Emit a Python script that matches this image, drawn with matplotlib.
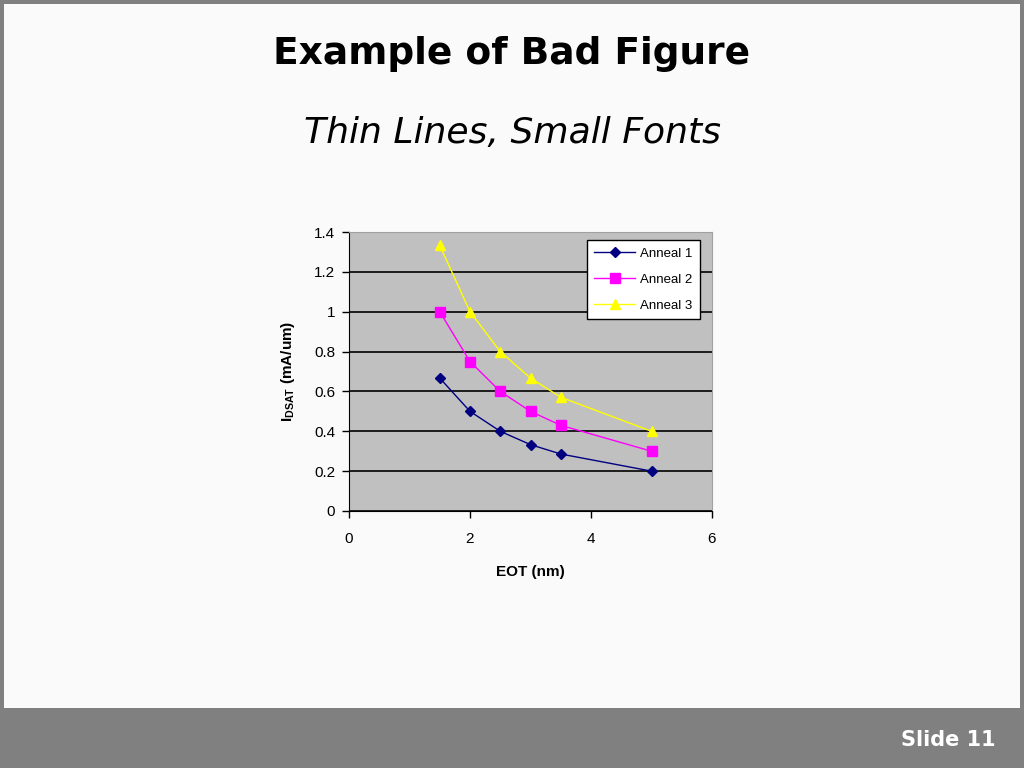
import matplotlib
matplotlib.use("Agg")
import matplotlib.pyplot as plt
from matplotlib.patches import Rectangle

eot = [1.5, 2.0, 2.5, 3.0, 3.5, 5.0]
anneal1 = [0.667, 0.5, 0.4, 0.333, 0.286, 0.2]
anneal2 = [1.0, 0.75, 0.6, 0.5, 0.43, 0.3]
anneal3 = [1.333, 1.0, 0.8, 0.667, 0.571, 0.4]
series_names = ["Anneal 1", "Anneal 2", "Anneal 3"]
x_ticks = [0, 2, 4, 6]
y_ticks = [0, 0.2, 0.4, 0.6, 0.8, 1.0, 1.2, 1.4]
y_tick_labels = ["0", "0.2", "0.4", "0.6", "0.8", "1", "1.2", "1.4"]

plt.rcParams['mathtext.fontset'] = 'custom'
plt.rcParams['mathtext.rm'] = 'Liberation Sans:bold'
plt.rcParams['mathtext.bf'] = 'Liberation Sans:bold'

fig = plt.figure(figsize=(10.24, 7.68), dpi=100)
fig.patch.set_facecolor('#808080')

# slide background
fig.add_artist(Rectangle((4/1024, 60/768), 1016/1024, 704/768, transform=fig.transFigure,
                         facecolor='#fafafa', edgecolor='none', zorder=0))

fig.text(0.5, 1 - 54/768, "Example of Bad Figure", ha='center', va='center',
         fontsize=27, fontweight='bold', family='DejaVu Sans', color='black')
fig.text(0.5, 1 - 133/768, "Thin Lines, Small Fonts", ha='center', va='center',
         fontsize=26, style='italic', family='DejaVu Sans', color='black')
fig.text(1 - 28/1024, 1 - 740/768, "Slide 11", ha='right', va='center',
         fontsize=15, fontweight='bold', family='DejaVu Sans', color='white')

ax = fig.add_axes([349/1024, 1 - 511/768, 363/1024, 279/768])
ax.set_facecolor('#c0c0c0')

ax.plot(eot, anneal1, color='#000080', lw=1, marker='D', ms=5.5, label=series_names[0], zorder=3)
ax.plot(eot, anneal2, color='#ff00ff', lw=1, marker='s', ms=7, label=series_names[1], zorder=3)
ax.plot(eot, anneal3, color='#ffff00', lw=1, marker='^', ms=7.5, label=series_names[2], zorder=3)

ax.set_xlim(0, 6)
ax.set_ylim(0, 1.4)
ax.set_xticks(x_ticks)
ax.set_xticklabels([str(t) for t in x_ticks])
ax.set_yticks(y_ticks)
ax.set_yticklabels(y_tick_labels)
ax.yaxis.grid(True, color='black', lw=1.2)
ax.set_axisbelow(True)
ax.tick_params(labelsize=11, direction='out', length=5, width=1)
ax.tick_params(axis='y', pad=5)
ax.tick_params(axis='x', pad=10)
for lab in ax.get_xticklabels() + ax.get_yticklabels():
    lab.set_family('Liberation Sans')
ax.spines['left'].set_color('black')
ax.spines['bottom'].set_color('black')
ax.spines['top'].set_color('#a0a0a0')
ax.spines['right'].set_color('#a0a0a0')

ax.set_xlabel("EOT (nm)", fontsize=11, fontweight='bold', family='Liberation Sans', labelpad=14)
ax.set_ylabel(r"I$_{\mathrm{DSAT}}$ (mA/um)", fontsize=11, fontweight='bold',
              family='Liberation Sans', labelpad=12)

leg = ax.legend(loc='upper right', bbox_to_anchor=(0.967, 0.971), borderaxespad=0,
                fontsize=9.5, frameon=True,
                fancybox=False, edgecolor='black', facecolor='white', framealpha=1,
                handlelength=3.1, borderpad=0.55, labelspacing=1.05, handletextpad=0.4)
for t in leg.get_texts():
    t.set_family('Liberation Sans')
leg.get_frame().set_linewidth(1)

fig.savefig("out.png", dpi=100, facecolor=fig.get_facecolor())
